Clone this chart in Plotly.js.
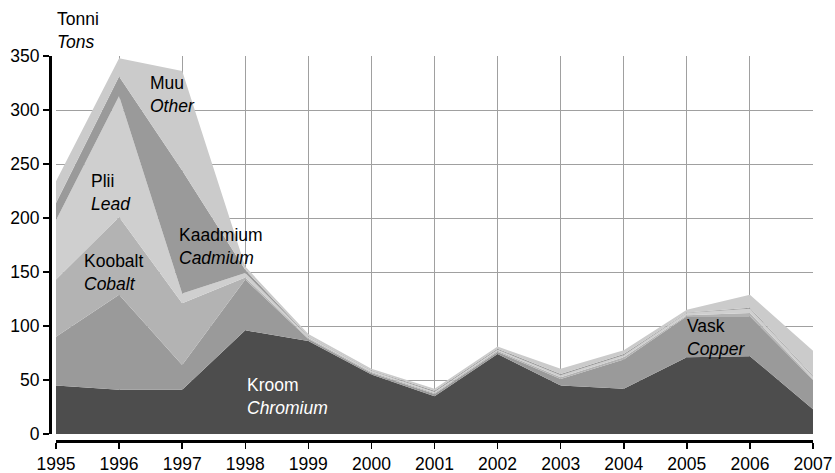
<!DOCTYPE html>
<html>
<head>
<meta charset="utf-8">
<script src="https://cdn.plot.ly/plotly-3.0.1.min.js"></script>
<style>
  html, body { margin: 0; padding: 0; background: #fff; }
  #chart { width: 835px; height: 473px; }
</style>
</head>
<body>
<div id="chart"></div>
<script>
// aastad / years
const years = [1995, 1996, 1997, 1998, 1999, 2000, 2001, 2002, 2003, 2004, 2005, 2006, 2007];

// tonnid, alt üles kuhjatud
const chromium = [45, 41, 41, 96, 86, 55, 35, 74, 45, 42, 71, 72, 23];
const copper   = [45, 88, 23, 47, 2, 1.5, 2, 2, 6, 27, 38, 37, 27];
const cobalt   = [53, 72, 57, 2, 1, 1, 1, 1, 1.5, 2, 1, 3, 1];
const lead     = [55, 112, 9, 4, 1, 1, 1, 1, 2, 2, 2, 4, 2];
const cadmium  = [16, 18, 114, 3, 0.5, 0.5, 1, 1, 1, 1, 0.5, 1, 1];
const other    = [20, 17, 92, 3, 2, 1.5, 2, 2, 5, 3.5, 2.5, 12, 23];

const yTicks = [0, 50, 100, 150, 200, 250, 300, 350];

const FONT = 'Liberation Sans, Arial, sans-serif';

function layer(values, color) {
    return {
        x: years,
        y: values,
        type: 'scatter',
        mode: 'lines',
        stackgroup: 'one',
        fillcolor: color,
        line: { width: 0, color: color },
        hoverinfo: 'skip',
        showlegend: false
    };
}

const data = [
    layer(chromium, '#4d4d4d'),
    layer(copper, '#9a9a9a'),
    layer(cobalt, '#b3b3b3'),
    layer(lead, '#cfcfcf'),
    layer(cadmium, '#9a9a9a'),
    layer(other, '#cbcbcb')
];

// sildid: eesti keeles + inglise keeles kaldkirjas
function label(et, en, x, y, color) {
    return {
        x: x, y: y, xref: 'x', yref: 'y',
        text: et + '<br><i>' + en + '</i>',
        showarrow: false,
        xanchor: 'left', yanchor: 'middle', align: 'left',
        font: { family: FONT, size: 17.5, color: color || '#000' }
    };
}

const layout = {
    width: 835,
    height: 473,
    margin: { l: 50, r: 22, t: 56, b: 32 },
    paper_bgcolor: '#fff',
    plot_bgcolor: '#fff',
    font: { family: FONT, size: 17.5, color: '#000' },
    xaxis: {
        domain: [6 / 763, 1],
        anchor: 'free',
        position: 0,
        range: [1995, 2007],
        tickvals: years,
        ticktext: years.map(String),
        showgrid: true,
        gridcolor: '#a0a0a0',
        gridwidth: 1,
        zeroline: false,
        showline: true,
        linecolor: '#000',
        linewidth: 2.5,
        ticks: 'outside',
        ticklen: 6,
        tickwidth: 1.5,
        tickcolor: '#000',
        tickfont: { family: FONT, size: 17.5, color: '#000' }
    },
    yaxis: {
        domain: [7 / 385, 1],
        anchor: 'free',
        position: 0,
        range: [0, 350],
        tickvals: yTicks,
        showgrid: true,
        gridcolor: '#a0a0a0',
        gridwidth: 1,
        zeroline: false,
        showline: true,
        linecolor: '#000',
        linewidth: 2.5,
        ticks: 'outside',
        ticklen: 6,
        tickwidth: 1.5,
        tickcolor: '#000',
        tickfont: { family: FONT, size: 17.5, color: '#000' }
    },
    annotations: [
        {
            x: 5 / 763, y: 1.0675, xref: 'paper', yref: 'paper',
            text: 'Tonni<br><i>Tons</i>',
            showarrow: false, xanchor: 'left', yanchor: 'middle', align: 'left',
            font: { family: FONT, size: 17.5, color: '#000' }
        },
        label('Muu', 'Other', 1996.46, 314),
        label('Plii', 'Lead', 1995.52, 224),
        label('Koobalt', 'Cobalt', 1995.41, 150),
        label('Kaadmium', 'Cadmium', 1996.92, 174),
        label('Kroom', 'Chromium', 1998.0, 35, '#fff'),
        label('Vask', 'Copper', 2004.97, 89)
    ]
};

Plotly.newPlot('chart', data, layout, { displayModeBar: false, staticPlot: true });
</script>
</body>
</html>
